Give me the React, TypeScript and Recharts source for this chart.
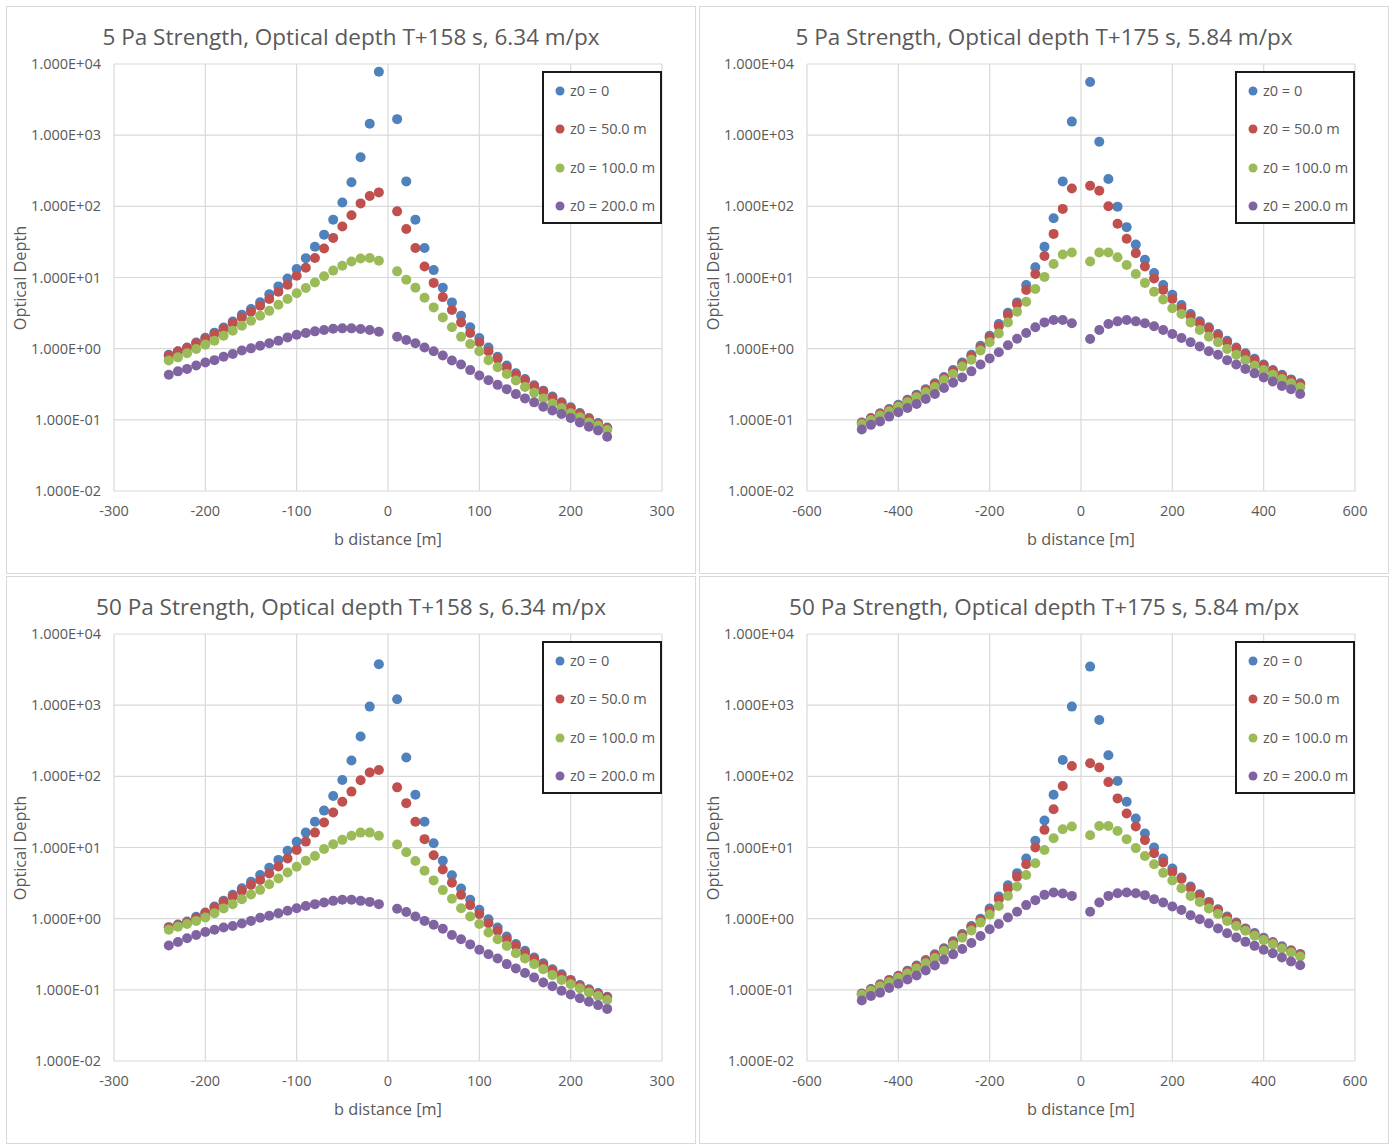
import React from 'react';
import { ScatterChart, Scatter, XAxis, YAxis, CartesianGrid, Legend } from 'recharts';

const SERIES_NAMES = ['z0 = 0', 'z0 = 50.0 m', 'z0 = 100.0 m', 'z0 = 200.0 m'];
const SERIES_COLORS = ['#4F81BD', '#C0504D', '#9BBB59', '#8064A2'];

const Y_TICKS = [0.01, 0.1, 1, 10, 100, 1000, 10000];
const Y_MINOR_TICKS = [
  0.02, 0.03, 0.04, 0.05, 0.06, 0.07, 0.08, 0.09,
  0.2, 0.3, 0.4, 0.5, 0.6, 0.7, 0.8, 0.9,
  2, 3, 4, 5, 6, 7, 8, 9,
  20, 30, 40, 50, 60, 70, 80, 90,
  200, 300, 400, 500, 600, 700, 800, 900,
  2000, 3000, 4000, 5000, 6000, 7000, 8000, 9000,
];
const X_TICKS_NARROW = [-300, -200, -100, 0, 100, 200, 300];
const X_TICKS_WIDE = [-600, -400, -200, 0, 200, 400, 600];

const B_NARROW = [
  -240, -230, -220, -210, -200, -190, -180, -170, -160, -150, -140, -130,
  -120, -110, -100, -90, -80, -70, -60, -50, -40, -30, -20, -10,
  10, 20, 30, 40, 50, 60, 70, 80, 90, 100, 110, 120,
  130, 140, 150, 160, 170, 180, 190, 200, 210, 220, 230, 240,
];
const B_WIDE = [
  -480, -460, -440, -420, -400, -380, -360, -340, -320, -300, -280, -260,
  -240, -220, -200, -180, -160, -140, -120, -100, -80, -60, -40, -20,
  20, 40, 60, 80, 100, 120, 140, 160, 180, 200, 220, 240,
  260, 280, 300, 320, 340, 360, 380, 400, 420, 440, 460, 480,
];

// Panel 1: 5 Pa, T+158 s
const P1_Z0 = [0.82,0.92,1.04,1.22,1.42,1.68,1.98,2.4,3.0,3.6,4.5,5.8,7.5,9.7,13.2,18.7,27,40,65,113,218,490,1450,7800,
  1680,224,65,26,12.7,7.2,4.47,2.9,2.0,1.41,1.04,0.77,0.58,0.45,0.375,0.305,0.257,0.212,0.177,0.150,0.125,0.106,0.090,0.078];
const P1_Z50 = [0.80,0.91,1.02,1.19,1.37,1.61,1.89,2.27,2.75,3.3,4.0,5.0,6.3,7.9,10.6,13.7,18.8,25.6,36,52,75,110,140,157,
  85,48,26,14.3,8.4,5.3,3.5,2.34,1.66,1.23,0.92,0.72,0.54,0.43,0.36,0.295,0.25,0.205,0.172,0.146,0.122,0.103,0.088,0.076];
const P1_Z100 = [0.68,0.755,0.86,0.99,1.14,1.29,1.52,1.79,2.1,2.47,2.9,3.4,4.15,5.0,6.0,7.1,8.5,10.4,12.5,14.6,16.8,18.5,18.8,17.2,
  12.2,9.3,7.2,5.2,3.8,2.75,2.0,1.47,1.16,0.92,0.69,0.55,0.44,0.356,0.29,0.24,0.20,0.17,0.147,0.124,0.109,0.092,0.083,0.072];
const P1_Z200 = [0.43,0.48,0.52,0.58,0.64,0.69,0.77,0.84,0.94,1.01,1.10,1.19,1.29,1.44,1.57,1.66,1.75,1.83,1.91,1.93,1.93,1.89,1.83,1.73,
  1.47,1.32,1.19,1.04,0.92,0.80,0.68,0.60,0.50,0.42,0.36,0.31,0.27,0.23,0.20,0.176,0.153,0.135,0.121,0.106,0.092,0.080,0.071,0.058];

// Panel 2: 5 Pa, T+175 s
const P2_Z0 = [0.092,0.106,0.124,0.142,0.163,0.192,0.226,0.27,0.326,0.40,0.50,0.64,0.82,1.10,1.52,2.22,3.2,4.47,7.85,13.9,27,68,224,1550,
  5600,810,242,99,51,29,17.8,11.6,7.85,5.7,4.1,3.07,2.42,2.0,1.61,1.29,1.04,0.86,0.72,0.60,0.50,0.43,0.37,0.326];
const P2_Z50 = [0.090,0.104,0.121,0.139,0.159,0.187,0.22,0.262,0.315,0.385,0.48,0.61,0.78,1.04,1.43,2.06,2.97,4.2,6.7,11.2,20,41,92,178,
  195,166,100,57,35,22,14.3,9.7,6.7,5.0,3.7,2.85,2.28,1.9,1.53,1.23,1.0,0.83,0.69,0.58,0.485,0.415,0.36,0.316];
const P2_Z100 = [0.087,0.0995,0.115,0.132,0.153,0.176,0.207,0.244,0.29,0.363,0.44,0.56,0.70,0.94,1.23,1.64,2.34,3.3,4.57,6.9,10.2,15.5,21,22.5,
  16.8,22.5,22.5,19.2,15,11.2,8.4,6.3,4.9,3.7,3.07,2.34,1.83,1.47,1.23,0.99,0.82,0.69,0.58,0.50,0.43,0.375,0.326,0.286];
const P2_Z200 = [0.073,0.085,0.095,0.111,0.128,0.147,0.167,0.196,0.231,0.28,0.333,0.395,0.48,0.60,0.73,0.89,1.12,1.38,1.66,2.0,2.34,2.53,2.53,2.27,
  1.37,1.83,2.22,2.42,2.53,2.42,2.27,2.06,1.83,1.61,1.41,1.23,1.07,0.92,0.82,0.69,0.60,0.52,0.45,0.395,0.347,0.30,0.27,0.231];

// Panel 3: 50 Pa, T+158 s
const P3_Z0 = [0.76,0.83,0.91,1.06,1.22,1.48,1.78,2.16,2.68,3.3,4.1,5.2,6.7,9.0,12,16.2,23,33,53,89,167,362,955,3750,
  1210,184,55,23,11.5,6.5,4.08,2.66,1.84,1.33,0.98,0.75,0.56,0.44,0.353,0.285,0.237,0.195,0.166,0.138,0.117,0.102,0.090,0.080];
const P3_Z50 = [0.75,0.81,0.88,1.02,1.20,1.44,1.72,2.05,2.46,2.98,3.5,4.3,5.4,7.0,9.25,12.1,16.2,22.4,31,44,61,88,113,123,
  70,42,23,13.1,7.8,4.9,3.2,2.16,1.55,1.16,0.865,0.675,0.515,0.415,0.327,0.27,0.222,0.185,0.157,0.134,0.114,0.099,0.087,0.078];
const P3_Z100 = [0.70,0.77,0.84,0.93,1.04,1.19,1.39,1.6,1.88,2.19,2.54,3.05,3.67,4.46,5.35,6.5,7.6,9.5,11.1,12.8,14.6,16.2,16.2,14.6,
  11.0,8.6,6.45,4.7,3.45,2.52,1.9,1.40,1.07,0.84,0.64,0.515,0.415,0.327,0.275,0.23,0.195,0.161,0.138,0.12,0.105,0.092,0.082,0.072];
const P3_Z200 = [0.42,0.47,0.53,0.59,0.65,0.70,0.75,0.79,0.855,0.93,1.03,1.10,1.19,1.29,1.40,1.51,1.6,1.69,1.78,1.84,1.84,1.78,1.72,1.6,
  1.38,1.24,1.07,0.93,0.82,0.72,0.59,0.515,0.435,0.365,0.317,0.275,0.23,0.20,0.172,0.149,0.127,0.112,0.097,0.086,0.076,0.068,0.061,0.054];

// Panel 4: 50 Pa, T+175 s
const P4_Z0 = [0.089,0.103,0.12,0.138,0.158,0.186,0.22,0.262,0.316,0.385,0.48,0.61,0.79,1.0,1.39,2.05,2.95,4.36,7.0,12.4,24,55,170,955,
  3480,620,198,86,44,25.5,15.7,10,7.0,5.07,3.79,2.83,2.21,1.72,1.36,1.07,0.88,0.73,0.63,0.54,0.47,0.41,0.36,0.32];
const P4_Z50 = [0.087,0.101,0.117,0.135,0.154,0.181,0.213,0.254,0.305,0.37,0.46,0.585,0.76,0.96,1.29,1.88,2.66,3.9,5.8,10,17.7,34.5,73,140,
  153,133,83,49,30,19.7,12.7,8.3,6.15,4.54,3.6,2.7,2.12,1.66,1.32,1.04,0.86,0.71,0.6,0.515,0.455,0.395,0.35,0.31];
const P4_Z100 = [0.085,0.097,0.112,0.128,0.148,0.17,0.2,0.236,0.28,0.35,0.425,0.54,0.68,0.88,1.14,1.51,2.09,2.83,4.1,6.0,9.2,13.5,18,19.7,
  14.9,20.1,20.1,17.1,13.1,9.8,7.6,5.8,4.4,3.45,2.68,2.09,1.72,1.39,1.16,0.93,0.79,0.675,0.574,0.50,0.44,0.38,0.335,0.294];
const P4_Z200 = [0.071,0.082,0.091,0.106,0.122,0.14,0.159,0.187,0.22,0.266,0.315,0.375,0.455,0.57,0.71,0.84,1.04,1.25,1.55,1.82,2.16,2.33,2.26,2.09,
  1.25,1.69,2.09,2.28,2.33,2.28,2.14,1.88,1.69,1.48,1.32,1.12,0.98,0.855,0.73,0.625,0.545,0.472,0.415,0.365,0.327,0.285,0.25,0.222];

const FONT = '"Open Sans", Lato, sans-serif';
const TEXT_COLOR = '#595959';
const GRID_COLOR = '#d9d9d9';
const TICK_FONT_SIZE = 14.5;

const PANEL_W = 690;
const PANEL_H = 568;
const MARGIN = { top: 58, right: 34, bottom: 53, left: 8 };
const Y_AXIS_W = 100;
const X_AXIS_H = 30;

function fmtSci(v: number): string {
  const s = v.toExponential(3).toUpperCase();
  return s.replace(/E([+-])(\d+)$/, (_m: string, sign: string, d: string) => 'E' + sign + (d.length < 2 ? '0' + d : d));
}

type PanelProps = {
  left: number;
  top: number;
  title: string;
  xs: number[];
  xDomain: [number, number];
  xTicks: number[];
  series: number[][];
};

function LegendBox() {
  return (
    <div
      style={{
        width: 120,
        height: 153,
        boxSizing: 'border-box',
        border: '2px solid #1a1a1a',
        background: '#fff',
        position: 'relative',
        fontFamily: FONT,
      }}
    >
      {SERIES_NAMES.map((name, i) => (
        <div
          key={name}
          style={{
            position: 'absolute',
            left: 0,
            top: 18 + i * 38.4 - 10,
            height: 20,
            display: 'flex',
            alignItems: 'center',
          }}
        >
          <svg width={26} height={20} style={{ display: 'block' }}>
            <circle cx={16} cy={10} r={4.5} fill={SERIES_COLORS[i]} />
          </svg>
          <span style={{ fontSize: 14.5, lineHeight: '20px', color: TEXT_COLOR, whiteSpace: 'nowrap' }}>{name}</span>
        </div>
      ))}
    </div>
  );
}

function Panel({ left, top, title, xs, xDomain, xTicks, series }: PanelProps) {
  const plotLeft = MARGIN.left + Y_AXIS_W;
  const plotRight = PANEL_W - MARGIN.right;
  const plotTop = MARGIN.top;
  const plotBottom = PANEL_H - MARGIN.bottom - X_AXIS_H;
  const plotCy = (plotTop + plotBottom) / 2;

  return (
    <div
      style={{
        position: 'absolute',
        left,
        top,
        width: PANEL_W,
        height: PANEL_H,
        background: '#fff',
        boxShadow: 'inset 0 0 0 1px #d9d9d9',
        fontFamily: FONT,
      }}
    >
      <div
        style={{
          position: 'absolute',
          left: 0,
          top: 15,
          width: PANEL_W,
          height: 32,
          lineHeight: '32px',
          textAlign: 'center',
          fontSize: 22.5,
          color: TEXT_COLOR,
          whiteSpace: 'nowrap',
        }}
      >
        {title}
      </div>
      <div style={{ position: 'absolute', left: 0, top: 0 }}>
        <ScatterChart width={PANEL_W} height={PANEL_H} margin={MARGIN}>
          <CartesianGrid stroke={GRID_COLOR} strokeWidth={1.2} />
          <XAxis
            type="number"
            dataKey="x"
            domain={xDomain}
            ticks={xTicks}
            allowDataOverflow
            axisLine={false}
            tickLine={false}
            tickSize={0}
            tickMargin={15}
            height={X_AXIS_H}
            tick={{ fill: TEXT_COLOR, fontSize: TICK_FONT_SIZE, fontFamily: FONT }}
          />
          <YAxis
            type="number"
            dataKey="y"
            scale="log"
            domain={[0.01, 10000]}
            ticks={Y_TICKS}
            allowDataOverflow
            axisLine={false}
            tickLine={false}
            tickSize={0}
            tickMargin={13}
            width={Y_AXIS_W}
            tickFormatter={fmtSci}
            tick={{ fill: TEXT_COLOR, fontSize: TICK_FONT_SIZE, fontFamily: FONT }}
          />
          <YAxis
            yAxisId="minor"
            type="number"
            scale="log"
            domain={[0.01, 10000]}
            ticks={Y_MINOR_TICKS}
            allowDataOverflow
            mirror
            width={0}
            axisLine={false}
            tick={false}
            tickLine={{ stroke: '#bfbfbf', strokeWidth: 1 }}
            tickSize={4}
          />
          <Legend
            layout="vertical"
            align="center"
            verticalAlign="middle"
            wrapperStyle={{ left: 536, top: 65, width: 120, height: 153 }}
            content={() => <LegendBox />}
          />
          {series.map((ys, si) => (
            <Scatter
              key={SERIES_NAMES[si]}
              name={SERIES_NAMES[si]}
              data={xs.map((x, i) => ({ x, y: ys[i] }))}
              fill={SERIES_COLORS[si]}
              isAnimationActive={false}
              shape={(p: any) => <circle cx={p.cx} cy={p.cy} r={5} fill={SERIES_COLORS[si]} />}
            />
          ))}
        </ScatterChart>
      </div>
      <div
        style={{
          position: 'absolute',
          left: plotLeft,
          width: plotRight - plotLeft,
          top: 522,
          height: 22,
          lineHeight: '22px',
          textAlign: 'center',
          fontSize: 16.3,
          color: TEXT_COLOR,
          whiteSpace: 'nowrap',
        }}
      >
        b distance [m]
      </div>
      <div
        style={{
          position: 'absolute',
          left: 14 - 100,
          top: plotCy - 11,
          width: 200,
          height: 22,
          lineHeight: '22px',
          textAlign: 'center',
          fontSize: 16.3,
          color: TEXT_COLOR,
          whiteSpace: 'nowrap',
          transform: 'rotate(-90deg)',
        }}
      >
        Optical Depth
      </div>
    </div>
  );
}

export default function App() {
  return (
    <div style={{ position: 'absolute', left: 0, top: 0, width: 1398, height: 1144, background: '#fff', overflow: 'hidden' }}>
      <Panel
        left={6}
        top={6}
        title="5 Pa Strength, Optical depth T+158 s, 6.34 m/px"
        xs={B_NARROW}
        xDomain={[-300, 300]}
        xTicks={X_TICKS_NARROW}
        series={[P1_Z0, P1_Z50, P1_Z100, P1_Z200]}
      />
      <Panel
        left={699}
        top={6}
        title="5 Pa Strength, Optical depth T+175 s, 5.84 m/px"
        xs={B_WIDE}
        xDomain={[-600, 600]}
        xTicks={X_TICKS_WIDE}
        series={[P2_Z0, P2_Z50, P2_Z100, P2_Z200]}
      />
      <Panel
        left={6}
        top={576}
        title="50 Pa Strength, Optical depth T+158 s, 6.34 m/px"
        xs={B_NARROW}
        xDomain={[-300, 300]}
        xTicks={X_TICKS_NARROW}
        series={[P3_Z0, P3_Z50, P3_Z100, P3_Z200]}
      />
      <Panel
        left={699}
        top={576}
        title="50 Pa Strength, Optical depth T+175 s, 5.84 m/px"
        xs={B_WIDE}
        xDomain={[-600, 600]}
        xTicks={X_TICKS_WIDE}
        series={[P4_Z0, P4_Z50, P4_Z100, P4_Z200]}
      />
    </div>
  );
}
